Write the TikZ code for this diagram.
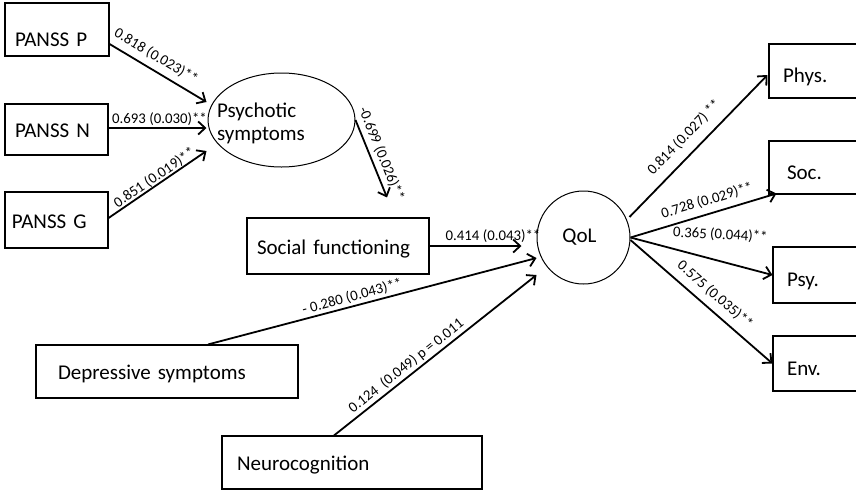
\documentclass[tikz,border=0pt]{standalone}
\usepackage{fontspec}
\setmainfont{Carlito}
\usetikzlibrary{arrows.meta,calc,shapes.geometric}
\begin{document}
\begin{tikzpicture}[x=1pt,y=-1pt,
  nodefont/.style={font=\fontsize{21}{23}\selectfont},
  box/.style={draw, line width=1.1pt, rectangle, inner ysep=0pt, align=left, nodefont, text height=20pt, text depth=4pt},
  lbl/.style={font=\fontsize{14.8}{16}\selectfont, inner sep=1pt},
  arr/.style={line width=1.8pt, -{Straight Barb[length=7pt,width=13pt]}},
]
\useasboundingbox (0,0) rectangle (856,491);

% left indicator boxes
\node[box, minimum width=104pt, minimum height=53pt, text width=84pt, inner xsep=10pt, text height=37pt] (pp) at (57,29.5) {PANSS P};
\node[box, minimum width=103pt, minimum height=51pt, text width=83pt, inner xsep=10pt] (pn) at (56.5,129.5) {PANSS N};
\node[box, minimum width=103pt, minimum height=56pt, text width=89pt, inner xsep=7pt] (pg) at (56.5,220) {PANSS G};

% latent variables
\node[draw, ellipse, line width=1pt, minimum width=147pt, minimum height=94pt, inner sep=0pt, nodefont] (psy) at (281.5,120)
  {\makebox[0pt][l]{\hspace*{-64.5pt}\raisebox{-10pt}[0pt][0pt]{\begin{tabular}{@{}l@{}}Psychotic\\symptoms\end{tabular}}}};
\node[draw, circle, line width=1pt, minimum size=93pt, inner sep=0pt, nodefont] (qol) at (583.5,237.5) {\hspace*{-8pt}QoL};

% predictors
\node[box, minimum width=182pt, minimum height=56pt, text width=162pt, inner xsep=10pt] (sf) at (338,246) {Social functioning};
\node[box, minimum width=262pt, minimum height=53pt, text width=218pt, inner xsep=22pt] (dep) at (167,371.5) {Depressive symptoms};
\node[box, minimum width=260pt, minimum height=53pt, text width=230pt, inner xsep=15pt] (neu) at (352,462.5) {Neurocognition};

% outcome boxes
\node[box, minimum width=91pt, minimum height=54pt, text width=63pt, inner xsep=14pt, text height=27pt] (phys) at (814.5,71) {Phys.};
\node[box, minimum width=91pt, minimum height=53pt, text width=55pt, inner xsep=18pt, text height=27pt] (soc) at (814.5,167.5) {Soc.};
\node[box, minimum width=87pt, minimum height=56pt, text width=59pt, inner xsep=14pt, text height=27pt] (psyd) at (816.5,275) {Psy.};
\node[box, minimum width=87pt, minimum height=55pt, text width=59pt, inner xsep=14pt, text height=27pt] (env) at (816.5,363.5) {Env.};

% measurement arrows into psychotic symptoms
\draw[arr] ($(pp.east)+(0,14.5)$) -- ($(psy.west)+(-1,-18)$)
  node[lbl, pos=0.41, sloped, above=5pt] {0.818 (0.023)**};
\draw[arr] ($(pn.east)+(0,-1.5)$) -- ($(psy.west)+(-1,8)$)
  node[lbl, pos=0.52, above=1pt] {0.693 (0.030)**};
\draw[arr] ($(pg.east)+(0,-2)$) -- ($(psy.west)+(-1,31)$)
  node[lbl, pos=0.51, sloped, above=-1pt] {0.851 (0.019)**};

% structural arrows
\draw[arr] (psy.east) -- ($(sf.north)+(49,-20)$)
  node[lbl, pos=0.49, sloped, above=3pt] {-0.699 (0.026)**};
\draw[arr] (sf.east) -- ($(qol.west)+(-15,8.5)$)
  node[lbl, pos=0.69, above=2pt] {0.414 (0.043)**};
\draw[arr] ($(dep.north)+(41,0)$) -- ($(qol.west)+(0,20.5)$)
  node[lbl, pos=0.446, sloped, above=1pt] {- 0.280 (0.043)**};
\draw[arr] ($(neu.north)+(-18,0)$) -- ($(qol.west)+(0,37.5)$)
  node[lbl, pos=0.386, sloped, above=1pt] {0.124\ \ (0.049) p = 0.011};

% QoL to domains
\draw[arr] ($(qol.east)+(-1,-20.5)$) -- ($(phys.west)+(-1,4)$)
  node[lbl, pos=0.48, sloped, above=8pt] {0.814 (0.027) **};
\draw[arr] (qol.east) -- ($(soc.south west)+(8,-1)$)
  node[lbl, pos=0.55, sloped, above=5pt] {0.728 (0.029)**};
\draw[arr] (qol.east) -- (psyd.west)
  node[lbl, pos=0.63, above=18pt, rotate=-3] {0.365 (0.044)**};
\draw[arr] ($(qol.east)+(0,2.5)$) -- (env.west)
  node[lbl, pos=0.53, sloped, above=6pt] {0.575 (0.035)**};
\end{tikzpicture}
\end{document}
